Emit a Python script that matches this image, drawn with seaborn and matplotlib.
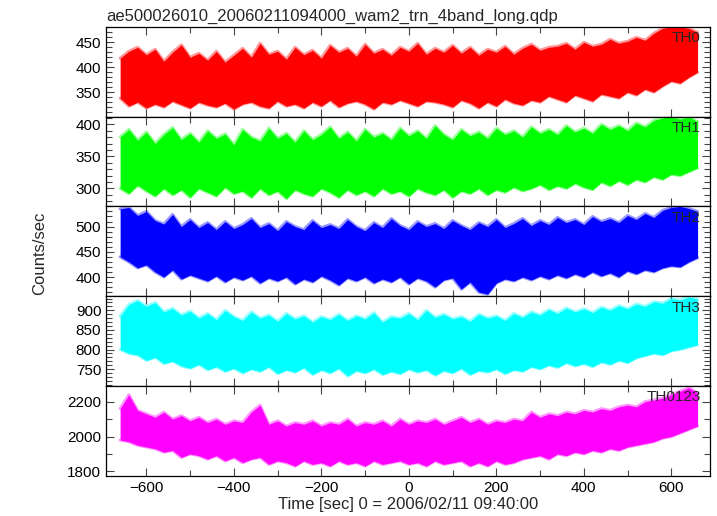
import numpy as np
import pandas as pd
import matplotlib
matplotlib.use('Agg')
import matplotlib.pyplot as plt
from matplotlib.ticker import MultipleLocator
import seaborn as sns

# time grid of the envelope readings (sec from 2006/02/11 09:40:00)
time_sec = list(range(-660, 661, 20))

# upper / lower edge of each light curve, every 20 s
th0_hi = [418, 432, 440, 425, 436, 412, 430, 445, 420, 428, 414, 432, 410, 424, 438, 420, 448,
          426, 432, 416, 440, 425, 434, 418, 444, 430, 438, 422, 446, 428, 436, 424, 440, 432,
          448, 426, 438, 430, 444, 428, 440, 424, 436, 430, 442, 426, 438, 446, 434, 440, 442,
          448, 436, 450, 442, 446, 456, 448, 452, 460, 454, 468, 478, 481, 481, 478, 470]
th0_lo = [338, 322, 330, 318, 326, 320, 332, 325, 318, 330, 324, 320, 328, 316, 326, 330, 322,
          318, 332, 322, 326, 318, 330, 322, 334, 320, 328, 332, 326, 316, 330, 326, 334, 328,
          322, 332, 330, 326, 320, 334, 328, 318, 330, 322, 336, 328, 324, 334, 330, 342, 336,
          330, 344, 338, 332, 346, 342, 338, 350, 344, 356, 350, 362, 372, 368, 380, 390]

th1_hi = [380, 392, 375, 388, 370, 384, 395, 376, 386, 372, 390, 378, 385, 368, 392, 380, 374,
          394, 378, 386, 372, 390, 376, 384, 396, 378, 388, 374, 392, 380, 386, 376, 394, 382,
          390, 378, 398, 384, 376, 392, 382, 388, 378, 394, 384, 390, 380, 396, 386, 392, 384,
          398, 388, 394, 386, 400, 392, 398, 390, 402, 396, 406, 410, 412, 408, 412, 404]
th1_lo = [300, 292, 305, 296, 288, 300, 290, 298, 286, 300, 294, 288, 302, 292, 296, 286, 300,
          290, 296, 284, 298, 292, 288, 300, 294, 286, 298, 290, 296, 288, 300, 292, 296, 288,
          300, 294, 290, 298, 286, 296, 292, 300, 290, 298, 294, 302, 296, 300, 306, 298, 304,
          300, 308, 302, 298, 310, 304, 312, 306, 314, 310, 318, 314, 322, 320, 326, 332]

th2_hi = [535, 538, 522, 530, 512, 505, 524, 500, 514, 498, 508, 494, 510, 496, 504, 516, 498,
          506, 492, 510, 500, 494, 512, 498, 504, 496, 514, 500, 492, 508, 498, 516, 502, 494,
          510, 500, 506, 496, 512, 502, 494, 508, 500, 514, 498, 506, 516, 502, 512, 504, 518,
          508, 514, 504, 520, 510, 516, 508, 522, 514, 526, 518, 532, 538, 540, 536, 530]
th2_lo = [440, 430, 418, 424, 410, 400, 414, 396, 404, 398, 392, 402, 390, 400, 394, 402, 388,
          398, 392, 400, 386, 396, 390, 402, 394, 384, 398, 392, 400, 388, 396, 390, 400, 386,
          398, 392, 380, 394, 398, 376, 390, 370, 366, 388, 396, 392, 400, 394, 402, 396, 404,
          398, 406, 400, 410, 402, 408, 400, 412, 406, 414, 410, 418, 422, 420, 430, 438]

th3_hi = [885, 915, 925, 910, 920, 896, 905, 888, 898, 880, 892, 876, 900, 884, 874, 896, 880,
          888, 872, 892, 878, 886, 870, 884, 876, 890, 874, 886, 878, 894, 870, 884, 880, 892,
          876, 900, 882, 890, 878, 884, 872, 890, 880, 886, 874, 892, 882, 896, 888, 902, 892,
          906, 896, 904, 894, 908, 900, 912, 904, 916, 910, 922, 918, 930, 926, 934, 928]
th3_lo = [800, 790, 786, 772, 780, 764, 770, 758, 752, 762, 748, 756, 744, 752, 740, 750, 744,
          756, 738, 748, 742, 754, 736, 748, 740, 752, 732, 746, 740, 750, 736, 744, 738, 750,
          742, 748, 734, 746, 740, 752, 736, 746, 742, 750, 738, 748, 744, 756, 750, 760, 754,
          766, 758, 764, 756, 768, 762, 772, 766, 778, 784, 790, 786, 796, 800, 806, 812]

th0123_hi = [2160, 2240, 2150, 2130, 2110, 2140, 2100, 2120, 2090, 2110, 2080, 2100, 2070, 2090,
             2080, 2140, 2180, 2070, 2090, 2060, 2080, 2070, 2090, 2060, 2080, 2070, 2100, 2060,
             2080, 2070, 2090, 2060, 2100, 2070, 2090, 2080, 2100, 2070, 2090, 2110, 2080, 2100,
             2070, 2090, 2080, 2100, 2090, 2140, 2110, 2130, 2120, 2140, 2130, 2150, 2140, 2160,
             2150, 2170, 2180, 2170, 2200, 2210, 2220, 2240, 2260, 2280, 2250]
th0123_lo = [1980, 1970, 1950, 1940, 1930, 1910, 1920, 1880, 1900, 1890, 1870, 1890, 1860, 1880,
             1850, 1870, 1880, 1840, 1860, 1850, 1830, 1860, 1840, 1850, 1830, 1860, 1840, 1850,
             1830, 1860, 1840, 1850, 1860, 1840, 1850, 1830, 1860, 1840, 1850, 1860, 1830, 1850,
             1830, 1860, 1840, 1850, 1870, 1880, 1890, 1870, 1900, 1890, 1910, 1900, 1920, 1910,
             1930, 1920, 1940, 1950, 1960, 1970, 1990, 2000, 2020, 2040, 2060]

band_names = ['TH0', 'TH1', 'TH2', 'TH3', 'TH0123']
band_hi = [th0_hi, th1_hi, th2_hi, th3_hi, th0123_hi]
band_lo = [th0_lo, th1_lo, th2_lo, th3_lo, th0123_lo]
band_colors = ['#ff0000', '#00ff00', '#0000ff', '#00ffff', '#ff00ff']
y_limits = [(301, 481), (272, 412), (362, 540), (707, 936), (1775, 2290)]
y_major = [50, 50, 50, 50, 200]
y_minor = [10, 10, 10, 10, 100]

sns.set_style('ticks')
plt.rcParams.update({
    'font.family': ['Liberation Sans', 'DejaVu Sans'],
    'font.size': 11,
    'xtick.direction': 'in',
    'ytick.direction': 'in',
    'xtick.top': True,
    'ytick.right': True,
    'axes.linewidth': 0.9,
    'axes.edgecolor': 'black',
})

fig, axes = plt.subplots(5, 1, figsize=(7.17, 5.16), dpi=100, sharex=True)
fig.subplots_adjust(left=0.148, right=0.990, top=0.948, bottom=0.078, hspace=0)

for ax, name, hi, lo, col, ylim, maj, mnr in zip(axes, band_names, band_hi, band_lo,
                                                   band_colors, y_limits, y_major, y_minor):
    assert len(hi) == len(time_sec) and len(lo) == len(time_sec)
    edges = pd.DataFrame({'time': time_sec + time_sec, 'rate': hi + lo,
                          'edge': ['hi'] * len(hi) + ['lo'] * len(lo)})
    # pale fringe along the spiky edges, solid core inside
    sns.lineplot(data=edges, x='time', y='rate', units='edge', estimator=None, ax=ax,
                 color=col, linewidth=2.2, alpha=0.4)
    ax.fill_between(time_sec, lo, hi, color=col, alpha=1.0, linewidth=0)
    ax.set_ylim(*ylim)
    ax.set_xlim(-692, 688)
    ax.yaxis.set_major_locator(MultipleLocator(maj))
    ax.yaxis.set_minor_locator(MultipleLocator(mnr))
    ax.xaxis.set_major_locator(MultipleLocator(200))
    ax.xaxis.set_minor_locator(MultipleLocator(100))
    ax.tick_params(which='major', length=6, width=0.8, colors='#444444', labelcolor='black',
                   labelsize=11)
    ax.tick_params(which='minor', length=4, width=0.8, colors='#444444')
    ax.set_xlabel('')
    ax.set_ylabel('')
    ax.text(0.985, 0.95, name, transform=ax.transAxes, ha='right', va='top', fontsize=11,
            zorder=5)

axes[0].set_title('ae500026010_20060211094000_wam2_trn_4band_long.qdp', loc='left',
                  fontsize=12, pad=4)
axes[-1].set_xlabel('Time [sec] 0 = 2006/02/11 09:40:00', fontsize=12, labelpad=2)
fig.text(0.055, 0.51, 'Counts/sec', rotation=90, ha='center', va='center', fontsize=12)

fig.savefig('out.png', dpi=100)
